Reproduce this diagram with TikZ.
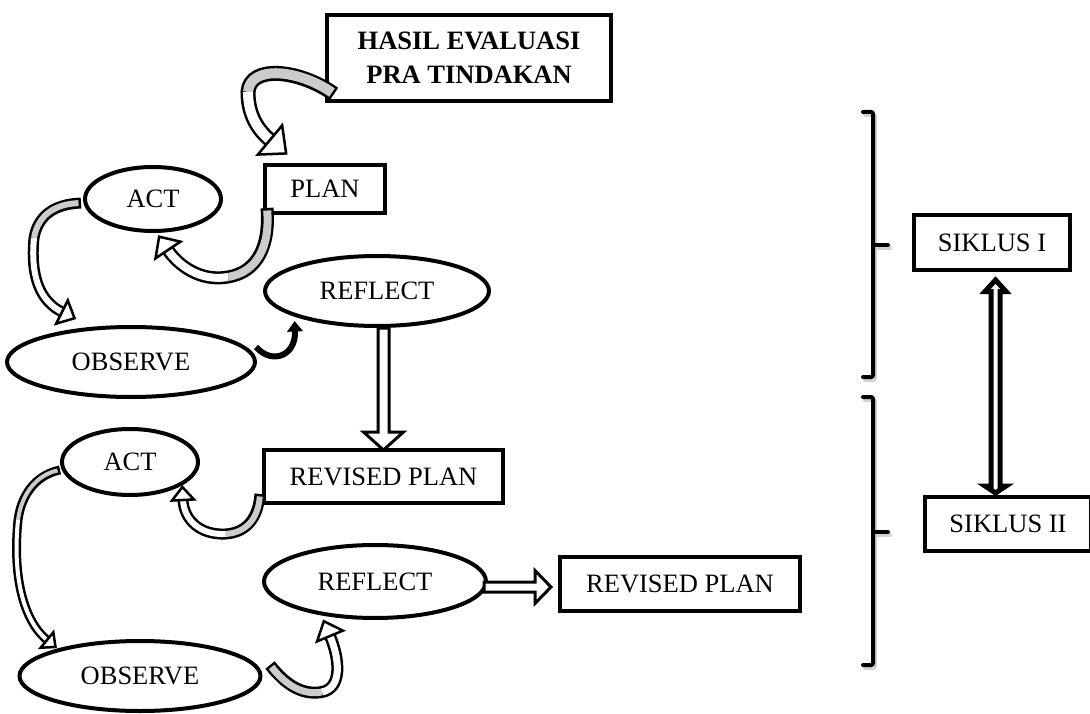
\documentclass[tikz,border=0pt]{standalone}
\usepackage{fontspec}
\setmainfont{Liberation Serif}
\usetikzlibrary{calc,shapes.geometric}
\tikzset{
  lbl/.style={font=\fontsize{26.5}{30}\selectfont},
  box/.style={rectangle, draw, line width=4pt, fill=white, inner sep=0pt, lbl},
  oval/.style={ellipse, draw, line width=4pt, fill=white, inner sep=0pt, lbl},
  bandout/.style={draw=black, line width=#1, line cap=butt},
  bandgray/.style={draw=gray!40, line width=#1, line cap=butt, shorten <=2.5pt},
  bandwhite/.style={draw=white, line width=#1, line cap=butt},
  headbox/.style={draw=black, fill=white, line width=2.5pt, line join=miter},
  solidheadbox/.style={draw=black, fill=black, line width=1pt, line join=miter},
  blockarrow/.style={draw=black, fill=white, line width=3pt, line join=miter},
  bracket/.style={draw=black, line width=4pt, line cap=round, rounded corners=2pt},
  bracketshadow/.style={draw=gray!35, line width=4pt, line cap=round, rounded corners=2pt}
}
\begin{document}
\begin{tikzpicture}[x=1pt,y=-1pt]
\fill[white] (0,0) rectangle (1090,714);
\useasboundingbox (0,0) rectangle (1090,714);

% nodes
\node[box, minimum width=284, minimum height=86, align=center,
      font=\bfseries\fontsize{26.5}{34}\selectfont] (hasil) at (469,58) {HASIL EVALUASI\\PRA TINDAKAN};
\node[box, minimum width=120, minimum height=48] (plan) at (325,189) {PLAN};
\node[oval, minimum width=136, minimum height=64] (act1) at (153,199) {ACT};
\node[oval, minimum width=224, minimum height=70] (reflect1) at (377,291) {REFLECT};
\node[oval, minimum width=248, minimum height=70] (observe1) at (131,362) {OBSERVE};
\node[box, minimum width=239, minimum height=53] (rplan1) at (383.5,476.5) {REVISED PLAN};
\node[oval, minimum width=136, minimum height=66] (act2) at (130,462) {ACT};
\node[oval, minimum width=222, minimum height=73] (reflect2) at (375,581.5) {REFLECT};
\node[oval, minimum width=241, minimum height=70] (observe2) at (140,676) {OBSERVE};
\node[box, minimum width=240, minimum height=54] (rplan2) at (680,584) {REVISED PLAN};
\node[box, minimum width=156, minimum height=55] (siklus1) at (992,242.5) {SIKLUS I};
\node[box, minimum width=166, minimum height=54] (siklus2) at (1008,524) {SIKLUS II};

% brackets
\draw[bracketshadow] (865,115) -- (875,115) -- (875,380) -- (865,380);
\draw[bracketshadow] (875,248) -- (890,248);
\draw[bracket] (863,112) -- (873,112) -- (873,377) -- (863,377);
\draw[bracket] (873,245) -- (888,245);
\draw[bracketshadow] (865,400) -- (875,400) -- (875,668) -- (865,668);
\draw[bracketshadow] (875,535) -- (890,535);
\draw[bracket] (863,397) -- (873,397) -- (873,665) -- (863,665);
\draw[bracket] (873,532) -- (888,532);

% endpoint coordinates
\coordinate (a1s) at ($(hasil.center)+(-135,36)$);
\coordinate (a1m) at (248,92);
\coordinate (a1c) at (258,130);
\coordinate (a1e) at ($(plan.center)+(-55,-49)$);
\coordinate (a2s) at ($(plan.center)+(-58,19)$);
\coordinate (a2m) at (228,277);
\coordinate (a2c) at (178,265);
\coordinate (a2e) at ($(act1.center)+(15,51)$);
\coordinate (a3s) at ($(act1.center)+(-72,4)$);
\coordinate (a3m) at (34,238);
\coordinate (a3c) at (42,302);
\coordinate (a3e) at ($(observe1.center)+(-69,-50)$);
\coordinate (a4s) at ($(observe1.center)+(125,-15)$);
\coordinate (a4c) at (296,356);
\coordinate (a4e) at ($(reflect1.center)+(-82,40)$);
\coordinate (a8s) at ($(rplan1.center)+(-123.5,17.5)$);
\coordinate (a8m) at (225,534);
\coordinate (a8c) at (184,520);
\coordinate (a8e) at ($(act2.center)+(53,38)$);
\coordinate (a9s) at ($(act2.center)+(-70,8)$);
\coordinate (a9m) at (18,520);
\coordinate (a9c) at (25,622);
\coordinate (a9e) at ($(observe2.center)+(-93,-36)$);
\coordinate (a10s) at ($(observe2.center)+(130,-11)$);
\coordinate (a10m) at (322,692);
\coordinate (a10c) at (340,660);
\coordinate (a10e) at ($(reflect2.center)+(-45,54.5)$);

% arrow 1: hasil -> plan
\draw[bandout=15] (a1s) .. controls (300,70) and (250,64) .. (a1m) .. controls (248,115) and (a1c) .. (a1e);
\draw[bandgray=10] (a1s) .. controls (300,70) and (250,64) .. (a1m);
\draw[bandwhite=10] (a1m) .. controls (248,115) and (a1c) .. (a1e);
\draw[headbox] ($(a1e)!19pt!90:(a1c)$) -- ($(a1e)!-21pt!(a1c)$) -- ($(a1e)!19pt!-90:(a1c)$) -- cycle;

% arrow 2: plan -> act1
\draw[bandout=13] (a2s) .. controls (270,245) and (258,272) .. (a2m) .. controls (200,282) and (a2c) .. (a2e);
\draw[bandgray=8] (a2s) .. controls (270,245) and (258,272) .. (a2m);
\draw[bandwhite=8] (a2m) .. controls (200,282) and (a2c) .. (a2e);
\draw[headbox] ($(a2e)!15pt!90:(a2c)$) -- ($(a2e)!-16pt!(a2c)$) -- ($(a2e)!15pt!-90:(a2c)$) -- cycle;

% arrow 3: act1 -> observe1
\draw[bandout=11] (a3s) .. controls (55,204) and (38,215) .. (a3m) .. controls (30,280) and (a3c) .. (a3e);
\draw[bandgray=6] (a3s) .. controls (55,204) and (38,215) .. (a3m);
\draw[bandwhite=6] (a3m) .. controls (30,280) and (a3c) .. (a3e);
\draw[headbox] ($(a3e)!13pt!90:(a3c)$) -- ($(a3e)!-14pt!(a3c)$) -- ($(a3e)!13pt!-90:(a3c)$) -- cycle;

% arrow 4: observe1 -> reflect1
\draw[line width=6pt, black] (a4s) .. controls (272,365) and (a4c) .. (a4e);
\draw[solidheadbox] ($(a4e)!7pt!90:(a4c)$) -- ($(a4e)!-9pt!(a4c)$) -- ($(a4e)!7pt!-90:(a4c)$) -- cycle;

% arrow 5: reflect1 -> revised plan 1
\draw[blockarrow] let \p1=(reflect1.south), \p2=(rplan1.north) in
  (\x2-5.5pt,\y1) -- (\x2-5.5pt,\y2+16pt) -- (\x2-20pt,\y2+16pt) -- (\x2,\y2-2pt)
  -- (\x2+20pt,\y2+16pt) -- (\x2+5.5pt,\y2+16pt) -- (\x2+5.5pt,\y1) -- cycle;

% arrow 8: revised plan 1 -> act2
\draw[bandout=11] (a8s) .. controls (258,520) and (245,533) .. (a8m) .. controls (200,535) and (a8c) .. (a8e);
\draw[bandgray=6] (a8s) .. controls (258,520) and (245,533) .. (a8m);
\draw[bandwhite=6] (a8m) .. controls (200,535) and (a8c) .. (a8e);
\draw[headbox] ($(a8e)!11pt!90:(a8c)$) -- ($(a8e)!-13pt!(a8c)$) -- ($(a8e)!11pt!-90:(a8c)$) -- cycle;

% arrow 9: act2 -> observe2
\draw[bandout=9] (a9s) .. controls (40,474) and (22,490) .. (a9m) .. controls (12,580) and (a9c) .. (a9e);
\draw[bandgray=4] (a9s) .. controls (40,474) and (22,490) .. (a9m);
\draw[bandwhite=4] (a9m) .. controls (12,580) and (a9c) .. (a9e);
\draw[headbox] ($(a9e)!10pt!90:(a9c)$) -- ($(a9e)!-11pt!(a9c)$) -- ($(a9e)!10pt!-90:(a9c)$) -- cycle;

% arrow 10: observe2 -> reflect2
\draw[bandout=12] (a10s) .. controls (288,688) and (305,695) .. (a10m) .. controls (342,688) and (a10c) .. (a10e);
\draw[bandgray=7] (a10s) .. controls (288,688) and (305,695) .. (a10m);
\draw[bandwhite=7] (a10m) .. controls (342,688) and (a10c) .. (a10e);
\draw[headbox] ($(a10e)!14pt!90:(a10c)$) -- ($(a10e)!-16pt!(a10c)$) -- ($(a10e)!14pt!-90:(a10c)$) -- cycle;

% arrow 7: reflect2 -> revised plan 2
\draw[blockarrow] let \p1=(reflect2.east), \p2=(rplan2.west) in
  (\x1-4pt,\y1-0.5pt) -- (\x2-23pt,\y1-0.5pt) -- (\x2-23pt,\y1+11pt) -- (\x2-7pt,\y1-5.5pt)
  -- (\x2-23pt,\y1-22pt) -- (\x2-23pt,\y1-10.5pt) -- (\x1-4pt,\y1-10.5pt) -- cycle;

% arrow 6: siklus1 <-> siklus2
\draw[blockarrow, line width=5pt] let \p1=(siklus1.south), \p2=(siklus2.north) in
  (\x1-1pt,\y1-19.5pt) -- (\x1-7pt,\y1-19.5pt) -- (\x1+3.5pt,\y1-8pt) -- (\x1+14pt,\y1-19.5pt)
  -- (\x1+8pt,\y1-19.5pt) -- (\x1+8pt,\y2+9pt) -- (\x1+14pt,\y2+9pt) -- (\x1+3.5pt,\y2+2pt)
  -- (\x1-7pt,\y2+9pt) -- (\x1-1pt,\y2+9pt) -- cycle;
\end{tikzpicture}
\end{document}
